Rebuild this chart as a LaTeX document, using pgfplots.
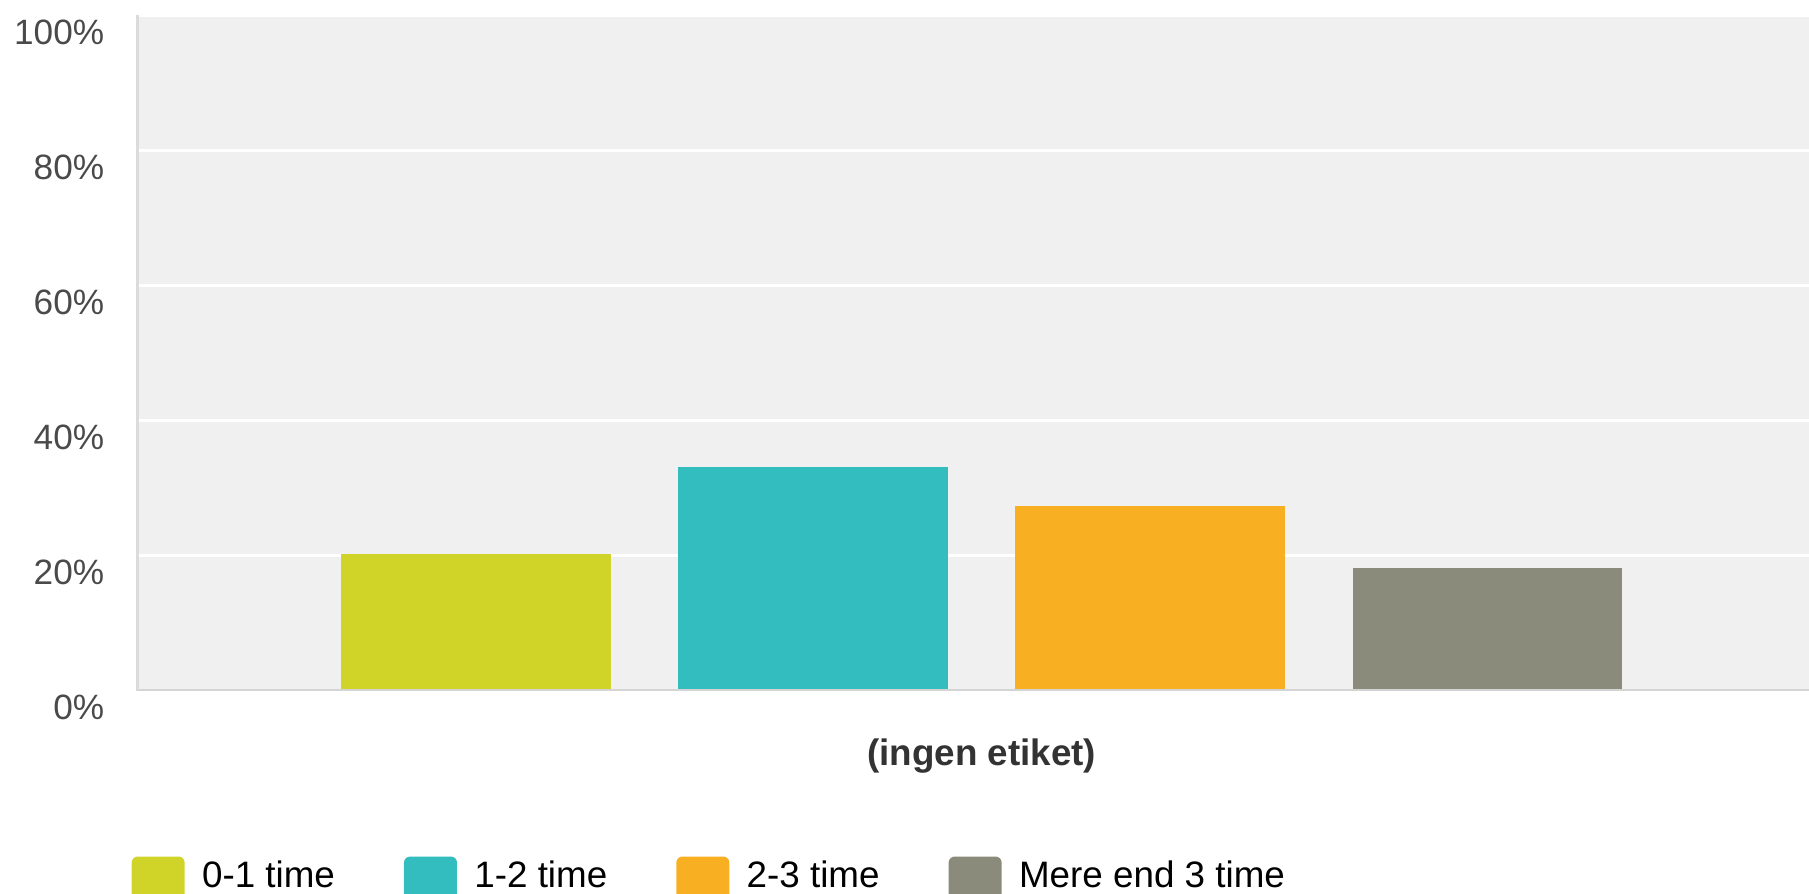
\documentclass[border=0pt]{standalone}
\usepackage{fontspec}
\setmainfont{Liberation Sans}
\usepackage{pgfplots}
\pgfplotsset{compat=1.18}
\definecolor{cYel}{HTML}{D1D428}
\definecolor{cTeal}{HTML}{33BDBE}
\definecolor{cOra}{HTML}{F8B022}
\definecolor{cGry}{HTML}{8A8B7A}
\definecolor{bgc}{HTML}{EFF0EF}
\definecolor{txt}{HTML}{4A4A4A}
\begin{document}
\begin{tikzpicture}
\useasboundingbox (0,0) rectangle (452.25pt,223.25pt);
\begin{axis}[
  at={(34pt,50.75pt)}, anchor=south west,
  scale only axis, width=418.25pt, height=168.75pt,
  xmin=-0.007, xmax=4.953, ymin=0, ymax=100,
  axis background/.style={fill=bgc},
  axis line style={draw=none},
  ytick={0,20,40,60,80,100},
  yticklabels={0\%,20\%,40\%,60\%,80\%,100\%},
  xtick={2.5}, xticklabels={\textbf{(ingen etiket)}},
  major tick length=0pt,
  ymajorgrids, grid style={white, line width=0.75pt},
  yticklabel style={font=\fontsize{8.8}{10}\selectfont, text=txt, inner sep=0pt, anchor=east, xshift=-7.75pt, yshift=-4.25pt},
  xticklabel style={font=\fontsize{9.2}{11}\selectfont, text=black!80, inner sep=0pt, anchor=center, yshift=-16.5pt},
  ybar, bar width=0.8, 
  legend columns=4,
  legend image code/.code={\fill[#1,rounded corners=1.5pt] (0pt,-8pt) rectangle (13.25pt,5.25pt);},
  legend style={draw=none, fill=none, inner sep=0pt, outer sep=0pt,
    at={(-0.0026,-0.2860)}, anchor=west,
    font=\fontsize{9.2}{11}\selectfont,
    nodes={inner sep=0pt},
    /tikz/every odd column/.style={column sep=4.35pt},
    /tikz/every even column/.style={column sep=17.25pt}},
]
\addplot[fill=cYel, draw=none, bar shift=0pt] coordinates {(1,20.2)};
\addplot[fill=cTeal, draw=none, bar shift=0pt] coordinates {(2,33.1)};
\addplot[fill=cOra, draw=none, bar shift=0pt] coordinates {(3,27.2)};
\addplot[fill=cGry, draw=none, bar shift=0pt] coordinates {(4,18.1)};
\legend{0-1 time, 1-2 time, 2-3 time, Mere end 3 time}
\draw[color=black!17, line width=0.6pt] (rel axis cs:0,0) -- (rel axis cs:1,0);
\draw[color=black!14, line width=1.25pt] (rel axis cs:0,0) -- (rel axis cs:0,1);
\end{axis}
\end{tikzpicture}
\end{document}
